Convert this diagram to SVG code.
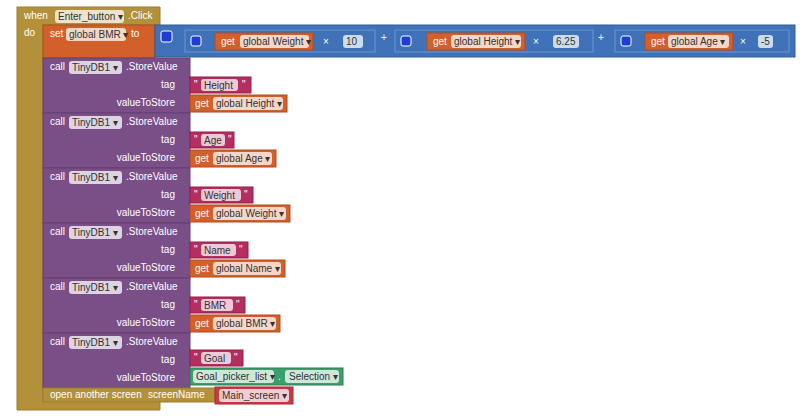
<svg xmlns="http://www.w3.org/2000/svg" width="806" height="420" viewBox="0 0 806 420">
<style>
text{font-family:"Liberation Sans",Arial,sans-serif;font-size:10px;fill:#fff}
.d{fill:#333}
.ev{fill:#B3903A;stroke:#9C7C2E;stroke-width:1}
.or{fill:#D35F2A;stroke:#B24C1F;stroke-width:1}
.bl{fill:#3F72B8;stroke:#2F5C99;stroke-width:1}
.pu{fill:#7A4F88;stroke:#654073;stroke-width:1}
.mg{fill:#B52E60;stroke:#951F4B;stroke-width:1}
.gr{fill:#3C9E6A;stroke:#2B8054;stroke-width:1}
.rd{fill:#C93A45;stroke:#A52A34;stroke-width:1}
.ch{fill:#fff;fill-opacity:.75;stroke:none}
.ol{fill:none;stroke:#6E95CC;stroke-width:1}
.gear{fill:#1D3FD0;stroke:#fff;stroke-width:1}
.r{text-anchor:end}
</style>
<g id="event">
<path class="ev" d="M17 7H160V25H43V400H160V410H17Z"/>
<text x="24" y="19">when</text>
<rect class="ch" x="55" y="10" width="69" height="13" rx="3"/>
<text class="d" x="58" y="20">Enter_button ▾</text>
<text x="128" y="19">.Click</text>
<text x="24" y="36">do</text>
</g>
<g id="set">
<rect class="or" x="43" y="25" width="112" height="33"/>
<text x="50" y="37">set</text>
<rect class="ch" x="66" y="28" width="60" height="13" rx="3"/>
<text class="d" x="69" y="38">global BMR ▾</text>
<text x="131" y="37">to</text>
</g>
<g id="math">
<rect class="bl" x="155" y="25" width="640" height="32"/>
<rect class="gear" x="161" y="31" width="11" height="11" rx="2"/>
<rect class="ol" x="185" y="30" width="190" height="22"/>
<rect class="gear" x="191" y="36" width="10" height="10" rx="2"/>
<rect class="or" x="215" y="33" width="98" height="17"/>
<text x="221" y="45">get</text>
<rect class="ch" x="240" y="35" width="69" height="13" rx="3"/>
<text class="d" x="243" y="45">global Weight ▾</text>
<text x="323" y="45">×</text>
<rect class="ch" x="343" y="35" width="20" height="13" rx="3"/>
<text class="d" x="346" y="45">10</text>
<text x="381" y="41">+</text>
<rect class="ol" x="395" y="30" width="198" height="22"/>
<rect class="gear" x="401" y="36" width="10" height="10" rx="2"/>
<rect class="or" x="427" y="33" width="98" height="17"/>
<text x="433" y="45">get</text>
<rect class="ch" x="451" y="35" width="70" height="13" rx="3"/>
<text class="d" x="454" y="45">global Height ▾</text>
<text x="533" y="45">×</text>
<rect class="ch" x="553" y="35" width="26" height="13" rx="3"/>
<text class="d" x="556" y="45">6.25</text>
<text x="598" y="41">+</text>
<rect class="ol" x="615" y="30" width="174" height="22"/>
<rect class="gear" x="621" y="36" width="10" height="10" rx="2"/>
<rect class="or" x="645" y="33" width="88" height="17"/>
<text x="651" y="45">get</text>
<rect class="ch" x="668" y="35" width="61" height="13" rx="3"/>
<text class="d" x="671" y="45">global Age ▾</text>
<text x="740" y="45">×</text>
<rect class="ch" x="758" y="35" width="15" height="13" rx="3"/>
<text class="d" x="761" y="45">-5</text>
</g>
<g id="store1" transform="translate(0,58)">
<rect class="pu" x="43" y="0" width="147" height="55"/>
<text x="50" y="12">call</text>
<rect class="ch" x="69" y="3" width="53" height="13" rx="3"/>
<text class="d" x="72" y="13">TinyDB1 ▾</text>
<text x="126" y="12">.StoreValue</text>
<text class="r" x="175" y="30">tag</text>
<text class="r" x="175" y="48">valueToStore</text>
<rect class="mg" x="190" y="19" width="61" height="16"/>
<rect class="ch" x="201" y="21" width="37" height="12" rx="3"/>
<text x="194" y="30">"</text><text class="d" x="204" y="31">Height</text><text x="242" y="30">"</text>
<rect class="or" x="190" y="37" width="97" height="17"/>
<text x="195" y="49">get</text>
<rect class="ch" x="213" y="39" width="70" height="13" rx="3"/>
<text class="d" x="216" y="49">global Height ▾</text>
</g>
<g id="store2" transform="translate(0,113)">
<rect class="pu" x="43" y="0" width="147" height="55"/>
<text x="50" y="12">call</text>
<rect class="ch" x="69" y="3" width="53" height="13" rx="3"/>
<text class="d" x="72" y="13">TinyDB1 ▾</text>
<text x="126" y="12">.StoreValue</text>
<text class="r" x="175" y="30">tag</text>
<text class="r" x="175" y="48">valueToStore</text>
<rect class="mg" x="190" y="19" width="44" height="16"/>
<rect class="ch" x="201" y="21" width="24" height="12" rx="3"/>
<text x="194" y="30">"</text><text class="d" x="204" y="31">Age</text><text x="228" y="30">"</text>
<rect class="or" x="190" y="37" width="86" height="17"/>
<text x="195" y="49">get</text>
<rect class="ch" x="213" y="39" width="59" height="13" rx="3"/>
<text class="d" x="216" y="49">global Age ▾</text>
</g>
<g id="store3" transform="translate(0,168)">
<rect class="pu" x="43" y="0" width="147" height="55"/>
<text x="50" y="12">call</text>
<rect class="ch" x="69" y="3" width="53" height="13" rx="3"/>
<text class="d" x="72" y="13">TinyDB1 ▾</text>
<text x="126" y="12">.StoreValue</text>
<text class="r" x="175" y="30">tag</text>
<text class="r" x="175" y="48">valueToStore</text>
<rect class="mg" x="190" y="19" width="63" height="16"/>
<rect class="ch" x="201" y="21" width="40" height="12" rx="3"/>
<text x="194" y="30">"</text><text class="d" x="204" y="31">Weight</text><text x="244" y="30">"</text>
<rect class="or" x="190" y="37" width="100" height="17"/>
<text x="195" y="49">get</text>
<rect class="ch" x="213" y="39" width="73" height="13" rx="3"/>
<text class="d" x="216" y="49">global Weight ▾</text>
</g>
<g id="store4" transform="translate(0,223)">
<rect class="pu" x="43" y="0" width="147" height="55"/>
<text x="50" y="12">call</text>
<rect class="ch" x="69" y="3" width="53" height="13" rx="3"/>
<text class="d" x="72" y="13">TinyDB1 ▾</text>
<text x="126" y="12">.StoreValue</text>
<text class="r" x="175" y="30">tag</text>
<text class="r" x="175" y="48">valueToStore</text>
<rect class="mg" x="190" y="19" width="58" height="16"/>
<rect class="ch" x="201" y="21" width="35" height="12" rx="3"/>
<text x="194" y="30">"</text><text class="d" x="204" y="31">Name</text><text x="239" y="30">"</text>
<rect class="or" x="190" y="37" width="95" height="17"/>
<text x="195" y="49">get</text>
<rect class="ch" x="213" y="39" width="68" height="13" rx="3"/>
<text class="d" x="216" y="49">global Name ▾</text>
</g>
<g id="store5" transform="translate(0,278)">
<rect class="pu" x="43" y="0" width="147" height="55"/>
<text x="50" y="12">call</text>
<rect class="ch" x="69" y="3" width="53" height="13" rx="3"/>
<text class="d" x="72" y="13">TinyDB1 ▾</text>
<text x="126" y="12">.StoreValue</text>
<text class="r" x="175" y="30">tag</text>
<text class="r" x="175" y="48">valueToStore</text>
<rect class="mg" x="190" y="19" width="55" height="16"/>
<rect class="ch" x="201" y="21" width="32" height="12" rx="3"/>
<text x="194" y="30">"</text><text class="d" x="204" y="31">BMR</text><text x="236" y="30">"</text>
<rect class="or" x="190" y="37" width="90" height="17"/>
<text x="195" y="49">get</text>
<rect class="ch" x="213" y="39" width="63" height="13" rx="3"/>
<text class="d" x="216" y="49">global BMR ▾</text>
</g>
<g id="store6" transform="translate(0,333)">
<rect class="pu" x="43" y="0" width="147" height="55"/>
<text x="50" y="12">call</text>
<rect class="ch" x="69" y="3" width="53" height="13" rx="3"/>
<text class="d" x="72" y="13">TinyDB1 ▾</text>
<text x="126" y="12">.StoreValue</text>
<text class="r" x="175" y="30">tag</text>
<text class="r" x="175" y="48">valueToStore</text>
<rect class="mg" x="190" y="17" width="53" height="16"/>
<rect class="ch" x="201" y="19" width="30" height="12" rx="3"/>
<text x="194" y="28">"</text><text class="d" x="204" y="29">Goal</text><text x="234" y="28">"</text>
<rect class="gr" x="190" y="35" width="153" height="17"/>
<rect class="ch" x="193" y="37" width="81" height="13" rx="3"/>
<text class="d" x="196" y="47">Goal_picker_list ▾</text>
<text x="278" y="47">.</text>
<rect class="ch" x="285" y="37" width="54" height="13" rx="3"/>
<text class="d" x="289" y="47">Selection ▾</text>
</g>
<g id="open">
<rect class="ev" x="43" y="388" width="172" height="14"/>
<text x="50" y="398">open another screen</text>
<text x="148" y="398">screenName</text>
<rect class="rd" x="215" y="387" width="78" height="17"/>
<rect class="ch" x="219" y="389" width="70" height="13" rx="3"/>
<text class="d" x="222" y="399">Main_screen ▾</text>
</g>
<g id="connectors"/>
</svg>
